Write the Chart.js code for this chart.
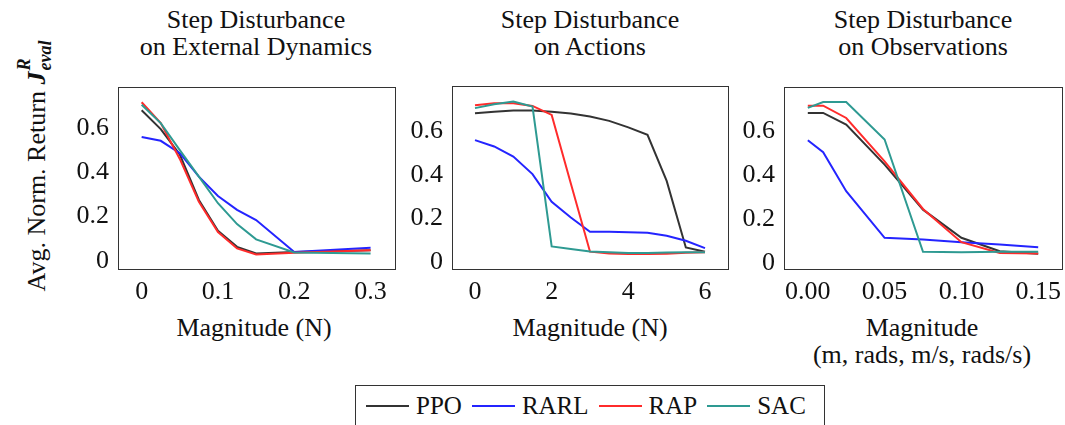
<!DOCTYPE html>
<html>
<head>
<meta charset="utf-8">
<script src="https://cdn.jsdelivr.net/npm/chart.js@4.4.1/dist/chart.umd.min.js"></script>
<style>
  html, body { margin: 0; padding: 0; background: #fff; }
  body { width: 1065px; height: 425px; position: relative; overflow: hidden;
         font-family: 'Liberation Serif', 'DejaVu Serif', serif; color: #111; }
  .cv { position: absolute; }
  .title, .xtitle { position: absolute; text-align: center; font-size: 26px; line-height: 27px; white-space: nowrap; }
  .ylab { position: absolute; left: 39px; top: 166px; font-size: 26px; white-space: nowrap;
          transform: translate(-50%, -50%) rotate(-90deg); }
  .ylab .j { font-weight: bold; font-style: italic; }
  .ylab .ss { display: inline-block; vertical-align: middle; line-height: 16px; font-size: 18px; margin-left: 1px; }
  .ylab .ss span { display: block; }
  .ylab .ss .r { font-weight: bold; font-style: italic; position: relative; top: -7px; }
  .ylab .ss .e { font-style: italic; font-weight: bold; position: relative; top: -2px; }
  .legend { position: absolute; left: 355px; top: 385px; width: 470px; height: 50px;
            border: 1px solid #333; box-sizing: border-box; display: flex; align-items: flex-start;
            padding-top: 6px; padding-left: 10px; font-size: 25px; }
  .legend .item { display: flex; align-items: center; margin-right: 10px; }
  .legend .swatch { width: 43px; height: 2px; margin-right: 7px; }
</style>
</head>
<body>
<div class="title" style="left:256px; top:6px; transform:translateX(-50%);">Step Disturbance<br>on External Dynamics</div>
<div class="title" style="left:590px; top:6px; transform:translateX(-50%);">Step Disturbance<br>on Actions</div>
<div class="title" style="left:923px; top:6px; transform:translateX(-50%);">Step Disturbance<br>on Observations</div>

<div class="ylab">Avg. Norm. Return <span class="j">J</span><span class="ss"><span class="r">R</span><span class="e">eval</span></span></div>

<canvas id="c1" class="cv" style="left:55px; top:78px;" width="345" height="232"></canvas>
<canvas id="c2" class="cv" style="left:400px; top:78px;" width="333" height="232"></canvas>
<canvas id="c3" class="cv" style="left:735px; top:78px;" width="330" height="232"></canvas>

<div class="xtitle" style="left:254px; top:314px; transform:translateX(-50%);">Magnitude (N)</div>
<div class="xtitle" style="left:590px; top:314px; transform:translateX(-50%);">Magnitude (N)</div>
<div class="xtitle" style="left:922px; top:314px; transform:translateX(-50%);">Magnitude<br>(m, rads, m/s, rads/s)</div>

<div class="legend" id="legend"></div>

<script>
// series colours / names
const methods = ['PPO', 'RARL', 'RAP', 'SAC'];
const colors = ['#333333', '#2424ff', '#ff2b2b', '#2e9a92'];

// panel 1: external dynamics (N)
const extX = [0, 0.025, 0.05, 0.075, 0.1, 0.125, 0.15, 0.2, 0.3];
const extPPO = [0.680, 0.595, 0.480, 0.275, 0.136, 0.063, 0.033, 0.040, 0.048];
const extRARL = [0.559, 0.542, 0.486, 0.380, 0.293, 0.230, 0.184, 0.040, 0.059];
const extRAP = [0.716, 0.622, 0.460, 0.267, 0.130, 0.056, 0.029, 0.036, 0.048];
const extSAC = [0.705, 0.622, 0.500, 0.380, 0.260, 0.166, 0.097, 0.038, 0.033];
const extTicksX = [0, 0.1, 0.2, 0.3];

// panel 2: actions (N)
const actX = [0, 0.5, 1, 1.5, 2, 2.5, 3, 3.5, 4, 4.5, 5, 5.5, 6];
const actPPO = [0.681, 0.688, 0.693, 0.693, 0.688, 0.679, 0.666, 0.646, 0.616, 0.582, 0.372, 0.068, 0.049];
const actRARL = [0.558, 0.529, 0.483, 0.403, 0.277, 0.205, 0.140, 0.140, 0.138, 0.135, 0.122, 0.099, 0.065];
const actRAP = [0.717, 0.726, 0.726, 0.714, 0.673, 0.360, 0.049, 0.041, 0.038, 0.038, 0.040, 0.044, 0.046];
const actSAC = [0.704, 0.722, 0.734, 0.711, 0.073, 0.061, 0.050, 0.046, 0.043, 0.043, 0.045, 0.046, 0.046];
const actTicksX = [0, 2, 4, 6];

// panel 3: observations
const obsX = [0, 0.01, 0.025, 0.05, 0.075, 0.1, 0.125, 0.15];
const obsPPO = [0.682, 0.682, 0.629, 0.447, 0.242, 0.114, 0.053, 0.041];
const obsRARL = [0.558, 0.503, 0.326, 0.114, 0.106, 0.094, 0.083, 0.071];
const obsRAP = [0.715, 0.715, 0.659, 0.462, 0.245, 0.094, 0.045, 0.042];
const obsSAC = [0.705, 0.732, 0.732, 0.561, 0.050, 0.048, 0.050, 0.050];
const obsTicksX = [0, 0.05, 0.1, 0.15];

const yTicks = [0, 0.2, 0.4, 0.6];

const FONT = { family: "'Liberation Serif', 'DejaVu Serif', serif", size: 26 };

const frame = {
  id: 'frame',
  afterDraw(chart) {
    const a = chart.chartArea;
    const ctx = chart.ctx;
    ctx.save();
    ctx.strokeStyle = '#333';
    ctx.lineWidth = 1;
    ctx.strokeRect(Math.round(a.left) + 0.5, Math.round(a.top) + 0.5,
      Math.round(a.right - a.left), Math.round(a.bottom - a.top));
    ctx.restore();
  },
};

// drop the label overhang padding so the plot box sits where layout.padding puts it
function noPad(s) {
  s.paddingTop = 0;
  s.paddingBottom = 0;
  s.paddingLeft = 0;
  s.paddingRight = 0;
}

function makePanel(id, xs, series, cfg) {
  const datasets = series.map((ys, i) => ({
    label: methods[i],
    data: xs.map((x, k) => ({ x, y: ys[k] })),
    borderColor: colors[i],
    backgroundColor: colors[i],
    borderWidth: 2,
    pointRadius: 0,
    tension: 0,
    order: 4 - i,
  }));
  return new Chart(document.getElementById(id), {
    type: 'line',
    data: { datasets },
    plugins: [frame],
    options: {
      responsive: false,
      animation: false,
      events: [],
      layout: { padding: { top: cfg.top, right: cfg.right, left: 0, bottom: 0 } },
      plugins: { legend: { display: false }, tooltip: { enabled: false } },
      scales: {
        x: {
          type: 'linear',
          min: cfg.xmin,
          max: cfg.xmax,
          afterBuildTicks: (s) => { s.ticks = cfg.xticks.map((v) => ({ value: v })); },
          afterFit: (s) => { s.height = cfg.xh; noPad(s); },
          grid: { display: false, drawTicks: false },
          border: { display: false },
          ticks: {
            font: FONT, color: '#111', padding: 8, maxRotation: 0,
            callback: (v) => cfg.xfmt(v),
          },
        },
        y: {
          min: cfg.ymin,
          max: cfg.ymax,
          afterBuildTicks: (s) => { s.ticks = yTicks.map((v) => ({ value: v })); },
          afterFit: (s) => { s.width = cfg.yw; noPad(s); },
          grid: { display: false, drawTicks: false },
          border: { display: false },
          ticks: {
            font: FONT, color: '#111', padding: 9,
            callback: (v) => (v === 0 ? '0' : v.toFixed(1)),
          },
        },
      },
    },
  });
}

makePanel('c1', extX, [extPPO, extRARL, extRAP, extSAC], {
  top: 9, right: 5, yw: 63, xh: 41, xmin: -0.031, xmax: 0.332, ymin: -0.037, ymax: 0.785,
  xticks: extTicksX, xfmt: (v) => (v === 0 ? '0' : v.toFixed(1)),
});
makePanel('c2', actX, [actPPO, actRARL, actRAP, actSAC], {
  top: 8, right: 5, yw: 52, xh: 41, xmin: -0.6, xmax: 6.6, ymin: -0.03, ymax: 0.805,
  xticks: actTicksX, xfmt: (v) => String(v),
});
makePanel('c3', obsX, [obsPPO, obsRARL, obsRAP, obsSAC], {
  top: 9, right: 3, yw: 49, xh: 41, xmin: -0.0155, xmax: 0.1655, ymin: -0.028, ymax: 0.80,
  xticks: obsTicksX, xfmt: (v) => v.toFixed(2),
});

// legend
const legend = document.getElementById('legend');
legend.innerHTML = methods.map((m, i) =>
  `<div class="item"><span class="swatch" style="background:${colors[i]}"></span><span>${m}</span></div>`).join('');
</script>
</body>
</html>
